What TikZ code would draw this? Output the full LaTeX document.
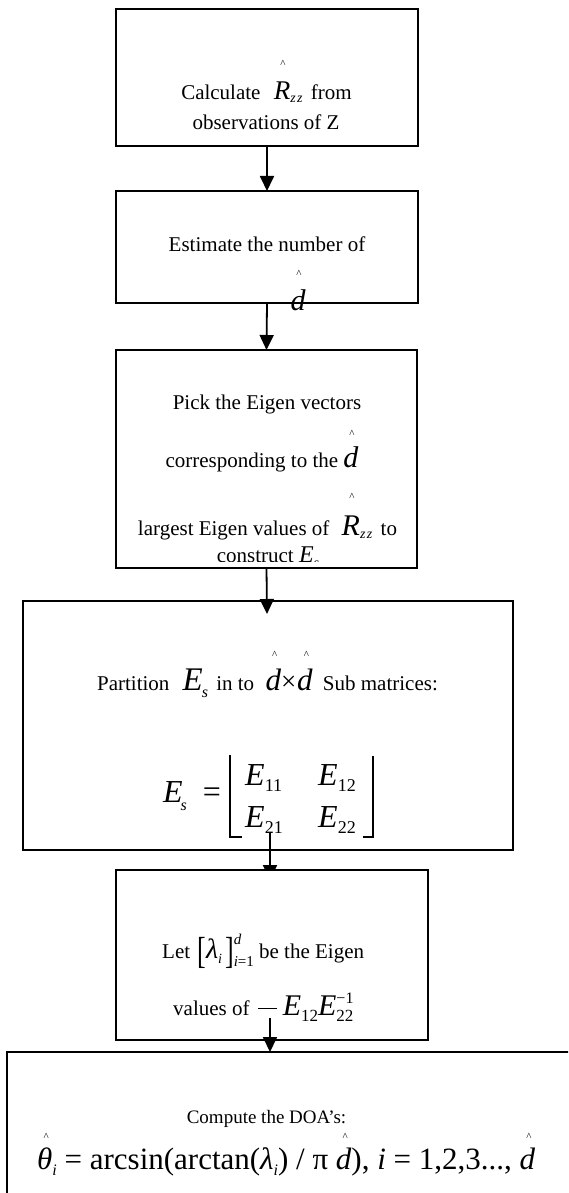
\documentclass[tikz,border=0pt]{standalone}
\usepackage{fontspec}
\setmainfont{Liberation Serif}
\usepackage{graphicx}
\usetikzlibrary{arrows.meta}
\newcommand\fs[1]{\fontsize{#1}{#1}\selectfont}
% letter with a small caret placed well above it
\newcommand\hatover[3][0pt]{\setbox0=\hbox{#3}\rlap{\hbox to \wd0{\hss\kern#1\raisebox{#2}{\fs{11}\upshape\textasciicircum}\hss}}\box0}
\newcommand\sub[3][-5pt]{\raisebox{#1}{\fs{#2}#3}}
\begin{document}
\begin{tikzpicture}[x=1pt,y=-1pt,
  box/.style={draw, line width=1.6pt, fill=white, inner sep=0pt, outer sep=0pt},
  txt/.style={anchor=base, inner sep=0pt, font=\fs{21}},
  arr/.style={line width=1.8pt, -{Triangle[width=14pt,length=15pt]}},
  brk/.style={line width=1.3pt}]
\useasboundingbox (0,0) rectangle (568,1193);
\clip (0,0) rectangle (568,1193);

% box 1
\node[box, minimum width=302pt, minimum height=137pt] (b1) at (267,77.5) {};
\node[txt] (t1a) at (266.5,100) {Calculate \kern8pt\hatover[2pt]{32.6pt}{\fs{27}\itshape R}\sub[-3pt]{14}{\itshape z\kern1.5pt z}\kern3pt{} from};
\node[txt] (t1b) at (266,130) {observations of Z};

% box 2
\node[box, minimum width=302pt, minimum height=112pt] (b2) at (267,247) {};
\node[txt] (t2a) at (267,251) {Estimate the number of};

% box 3
\node[box, minimum width=301pt, minimum height=218pt] (b3) at (266.5,459) {};
\node[txt] (t3a) at (267,409) {Pick the Eigen vectors};
\node[txt] (t3b) at (262,467) {corresponding to the \hatover[2pt]{29.6pt}{\fs{30}\itshape d}};
\node[txt] (t3c) at (267.5,535) {largest Eigen values of \kern7pt\hatover[2pt]{34.6pt}{\fs{30}\itshape R}\sub[-3pt]{14}{\itshape z\kern1.5pt z}\kern3pt{} to};
\begin{scope}
\clip (117,351) rectangle (416,561);
\node[txt] (t3d) at (268,562) {construct {\fs{24}\itshape E}\sub{14}{\itshape s}};
\end{scope}

% box 4
\node[box, minimum width=490pt, minimum height=249pt] (b4) at (268,725.5) {};
\node[txt] (t4a) at (267.5,690) {Partition \kern8pt{\fs{33}\itshape E}\kern-1pt\sub[-7pt]{16}{\itshape s}\kern3pt{} in to \kern6pt\hatover[3pt]{31.6pt}{\fs{31}\itshape d}{\fs{27}×}\kern1pt\hatover[3pt]{31.6pt}{\fs{31}\itshape d}\kern5pt{} Sub matrices:};
\node[txt, anchor=base west] (t4b) at (163,802) {\fs{32}\itshape E\kern-2pt\sub[-8pt]{16}{s}\upshape\ \ =};
\node[txt, anchor=base west] (m11) at (245,785) {\fs{32}\itshape E\upshape\sub[-6pt]{18}{11}};
\node[txt, anchor=base west] (m12) at (318,785) {\fs{32}\itshape E\upshape\sub[-6pt]{18}{12}};
\node[txt, anchor=base west] (m21) at (245,827) {\fs{32}\itshape E\upshape\sub[-6pt]{18}{21}};
\node[txt, anchor=base west] (m22) at (318,827) {\fs{32}\itshape E\upshape\sub[-6pt]{18}{22}};
\draw[brk] (230,755) -- (230,837) -- (242,837);
\draw[brk] (373,756) -- (373,837) -- (363,837);

% box 2 d-hat (overlaps the lower border of box 2)
\node[txt] (t2b) at (298,310) {\hatover[2pt]{32.6pt}{\fs{30}\itshape d}};

% connectors 1-4
\coordinate (a3e) at (267,614);
\draw[arr] (b1.south) -- (b2.north);
\draw[arr] (b2.south) -- (b3.north);
\draw[arr] (b3.south) -- (a3e);
\coordinate (a4s) at (270,833);
\coordinate (a4e) at (270,880);
\draw[arr] (a4s) -- (a4e);

% box 5
\node[box, minimum width=312pt, minimum height=170pt] (b5) at (272,955) {};
\node[txt, anchor=base west] (t5a) at (162,958) {Let \kern2pt\raisebox{-5pt}{\scalebox{1}[1.45]{\fs{26}[}}{\fs{28}\itshape λ}\sub[-5pt]{14}{\itshape i}\kern3pt\raisebox{-5pt}{\scalebox{1}[1.45]{\fs{26}]}}\rlap{\raisebox{14pt}{\fs{15}\itshape d}}\sub[-8pt]{15}{\itshape i\upshape =1} be the Eigen};
\node[txt, anchor=base west] (t5b) at (173,1015) {values of \kern3pt\rule[6pt]{19pt}{1.2pt}\kern6pt{\fs{30}\itshape E}\sub[-6pt]{17}{12}{\fs{30}\itshape E}\rlap{\raisebox{12pt}{\fs{16}−1}}\sub[-6pt]{17}{22}};

% box 6
\node[box, minimum width=593pt, minimum height=178pt] (b6) at (303.5,1141) {};
\coordinate (a5s) at (270,1018);
\coordinate (a5e) at (270,1052);
\draw[arr] (a5s) -- (a5e);
\node[txt, font=\fs{19}] (t6a) at (266.5,1123) {Compute the DOA’s:};
\node[txt, anchor=base west, font=\fs{31}] (t6b) at (37,1169) {\hatover[3pt]{28.6pt}{\itshape θ}\sub[-6pt]{16}{\itshape i} = arcsin(arctan(\textit{λ}\sub[-6pt]{16}{\itshape i}) / π \hatover[3pt]{28.6pt}{\itshape d}), \textit{i} = 1,2,3..., \hatover[3pt]{28.6pt}{\itshape d}};
\end{tikzpicture}
\end{document}
